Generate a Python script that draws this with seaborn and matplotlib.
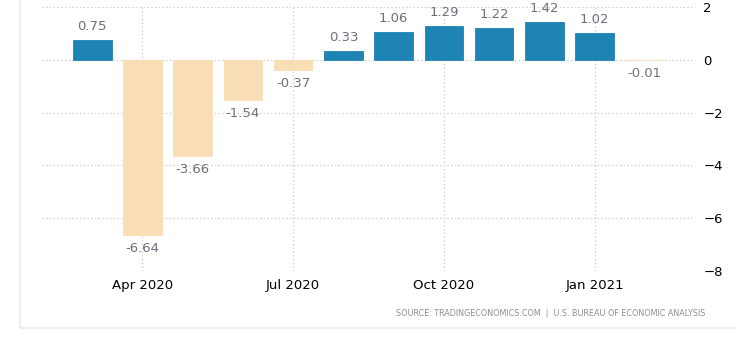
import matplotlib
matplotlib.use("Agg")
import matplotlib.pyplot as plt
import seaborn as sns
import pandas as pd
from matplotlib.patches import Rectangle

months = ["Mar 2020", "Apr 2020", "May 2020", "Jun 2020", "Jul 2020", "Aug 2020",
          "Sep 2020", "Oct 2020", "Nov 2020", "Dec 2020", "Jan 2021", "Feb 2021"]
values = [0.75, -6.64, -3.66, -1.54, -0.37, 0.33, 1.06, 1.29, 1.22, 1.42, 1.02, -0.01]
tick_labels = ["Apr 2020", "Jul 2020", "Oct 2020", "Jan 2021"]
y_ticks = [2, 0, -2, -4, -6, -8]

df = pd.DataFrame({"month": months, "value": values})
df["sign"] = ["pos" if v >= 0 else "neg" for v in values]
pal = {"pos": "#1e84b4", "neg": "#f9deb5"}

sns.set_style("white")
plt.rcParams['font.family'] = ['DejaVu Sans']

fig = plt.figure(figsize=(7.37, 3.41), dpi=100)
ax = fig.add_axes([42/737, 1-271/341, (695-42)/737, (271-7)/341])

sns.barplot(data=df, x="month", y="value", hue="sign", palette=pal,
            order=months, dodge=False, width=0.77, legend=False, ax=ax,
            saturation=1, linewidth=0)

for c in ax.containers:
    for p in c.patches:
        p.set_edgecolor(p.get_facecolor())
        p.set_linewidth(0.6)
    labels = [f"{v:.2f}" for v in c.datavalues]
    ax.bar_label(c, labels=labels, padding=5, color="#6f6f7c", fontsize=9.5)

ax.set_xlim(-1, 12)
ax.set_ylim(-8, 2)
ax.set_yticks(y_ticks)
ax.yaxis.tick_right()
ax.tick_params(axis="y", length=0, pad=6, labelsize=9.5, colors="black")
tick_pos = [months.index(t) for t in tick_labels]
ax.set_xticks(tick_pos)
ax.set_xticklabels(tick_labels)
ax.tick_params(axis="x", length=0, pad=6, labelsize=9.5, colors="black")
ax.set_xlabel("")
ax.set_ylabel("")
ax.grid(True, axis="both", linestyle=(0, (1, 2)), color="#c8c8c8", linewidth=0.9)
ax.set_axisbelow(True)
for s in ax.spines.values():
    s.set_visible(False)

fig.patches.append(Rectangle((20/737, 13/341), 1.0, 1.0, transform=fig.transFigure,
                             fill=False, edgecolor="#ebebeb", linewidth=1.2, zorder=0))

fig.text(705/737, 1-313/341,
         "SOURCE: TRADINGECONOMICS.COM  |  U.S. BUREAU OF ECONOMIC ANALYSIS",
         ha="right", va="center", fontsize=5.8, color="#8c8c96")

fig.savefig("out.png", dpi=100)
